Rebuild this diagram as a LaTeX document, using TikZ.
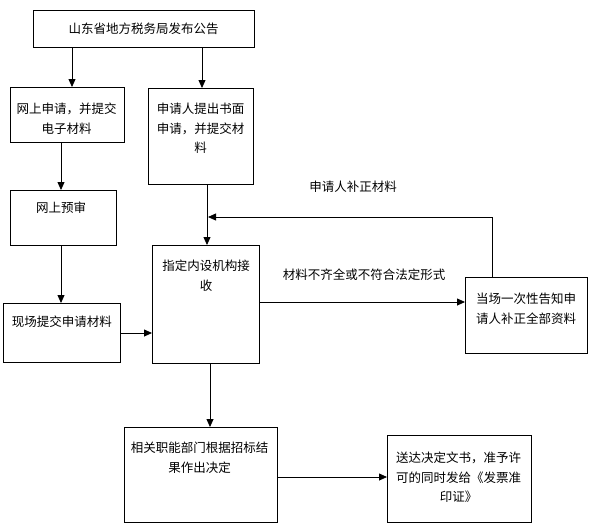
\documentclass[tikz,border=0pt]{standalone}
\usepackage{fontspec}
\setmainfont{Noto Sans CJK SC}
\usetikzlibrary{arrows.meta}
\begin{document}
\begin{tikzpicture}[x=1pt,y=-1pt,
  box/.style={draw, line width=0.8pt, inner sep=0pt, anchor=north west},
  txt/.style={anchor=north, align=center, inner sep=0pt, font=\fontsize{12.5}{19.5}\selectfont},
  lbl/.style={inner sep=0pt, font=\fontsize{12.5}{19.5}\selectfont},
  arr/.style={line width=0.8pt, -{Triangle[length=8pt,width=7pt]}},
  ln/.style={line width=0.8pt}]
\useasboundingbox (0,0) rectangle (592,528);
% boxes
\node[box, minimum width=221pt, minimum height=37pt] (top) at (33,10) {};
\node[box, minimum width=114pt, minimum height=55pt] (A) at (10,87) {};
\node[box, minimum width=105pt, minimum height=96pt] (B) at (148,88) {};
\node[box, minimum width=106pt, minimum height=55pt] (P) at (10,190) {};
\node[box, minimum width=117pt, minimum height=59pt] (S) at (3,303) {};
\node[box, minimum width=107pt, minimum height=118pt] (R) at (152,245) {};
\node[box, minimum width=122pt, minimum height=76pt] (N) at (465,277) {};
\node[box, minimum width=153pt, minimum height=95pt] (D) at (124,427) {};
\node[box, minimum width=144pt, minimum height=87pt] (F) at (387,435) {};
% texts
\node[txt] (topt) at (143.5,23) {山东省地方税务局发布公告};
\node[txt] (At) at (66.5,103) {网上申请，并提交\\电子材料};
\node[txt] (Bt) at (200.5,103) {申请人提出书面\\申请，并提交材\\料};
\node[txt] (Pt) at (61,202) {网上预审};
\node[txt] (St) at (62,316) {现场提交申请材料};
\node[txt] (Rt) at (206,260) {指定内设机构接\\收};
\node[txt] (Nt) at (526,293) {当场一次性告知申\\请人补正全部资料};
\node[txt] (Dt) at (199.5,442) {相关职能部门根据招标结\\果作出决定};
\node[txt] (Ft) at (458.5,452) {送达决定文书，准予许\\可的同时发给《发票准\\印证》};
% labels
\node[lbl] (l1) at (353,187) {申请人补正材料};
\node[lbl] (l2) at (364,275) {材料不齐全或不符合法定形式};
% connectors
\draw[arr] (top.south -| 72,0) -- (A.north -| 72,0);
\draw[arr] (top.south -| 202,0) -- (B.north -| 202,0);
\draw[arr] (A.south -| 61,0) -- (P.north -| 61,0);
\draw[arr] (P.south -| 61,0) -- (S.north -| 61,0);
\draw[arr] (S.east |- 0,333) -- (R.west |- 0,333);
\draw[arr] (B.south -| 207,0) -- (R.north -| 207,0);
\draw[arr] (R.east |- 0,302) -- (N.west |- 0,302);
\coordinate (fb) at (208,217);
\draw[arr] (N.north -| 492,0) |- (fb);
\draw[arr] (R.south -| 210,0) -- (D.north -| 210,0);
\draw[arr] (D.east |- 0,477) -- (F.west |- 0,477);
\end{tikzpicture}
\end{document}
